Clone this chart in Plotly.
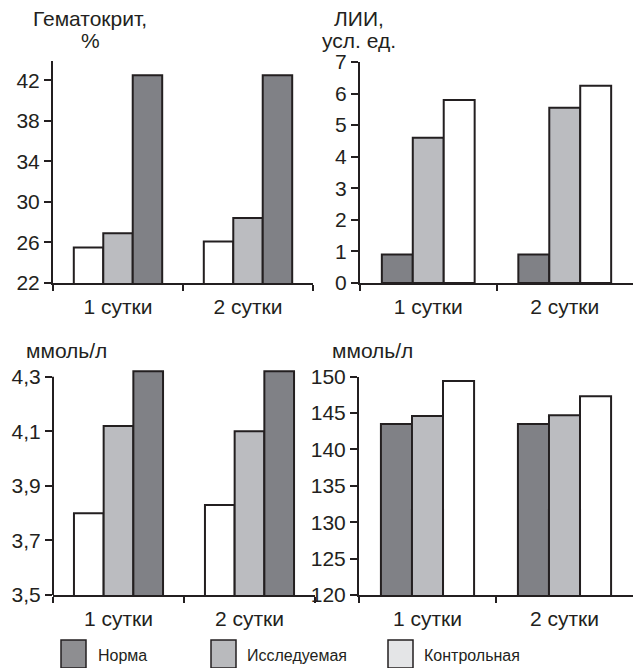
import plotly.graph_objects as go

days = ["1 сутки", "2 сутки"]
series_names = ["Норма", "Исследуемая", "Контрольная"]

hct_norm = [42.5, 42.5]
hct_study = [26.9, 28.4]
hct_control = [25.5, 26.1]

lii_norm = [0.9, 0.9]
lii_study = [4.6, 5.55]
lii_control = [5.8, 6.25]

k_norm = [4.32, 4.32]
k_study = [4.12, 4.10]
k_control = [3.80, 3.83]

na_norm = [143.5, 143.5]
na_study = [144.6, 144.7]
na_control = [149.4, 147.3]

hct_ticks = [22, 26, 30, 34, 38, 42]
lii_ticks = [0, 1, 2, 3, 4, 5, 6, 7]
k_ticks = [3.5, 3.7, 3.9, 4.1, 4.3]
k_ticktext = ["3,5", "3,7", "3,9", "4,1", "4,3"]
na_ticks = [120, 125, 130, 135, 140, 145, 150]

W, H = 637, 668
INK = "#231f20"
FONT = "Liberation Sans, Arial, sans-serif"
bar_colors = {"Норма": "#808186", "Исследуемая": "#bbbcc0", "Контрольная": "#ffffff"}
legend_colors = {"Норма": "#8e8e91", "Исследуемая": "#b9babd", "Контрольная": "#e4e5e7"}

fig = go.Figure()


def add_bars(name, vals, xa, ya):
    fig.add_trace(go.Bar(
        x=days, y=vals, name=name, xaxis=xa, yaxis=ya, showlegend=False,
        marker=dict(color=bar_colors[name], line=dict(color=INK, width=2)),
    ))


# top-left: Контрольная, Исследуемая, Норма
add_bars("Контрольная", hct_control, "x", "y")
add_bars("Исследуемая", hct_study, "x", "y")
add_bars("Норма", hct_norm, "x", "y")
# top-right
add_bars("Норма", lii_norm, "x2", "y2")
add_bars("Исследуемая", lii_study, "x2", "y2")
add_bars("Контрольная", lii_control, "x2", "y2")
# bottom-left
add_bars("Контрольная", k_control, "x3", "y3")
add_bars("Исследуемая", k_study, "x3", "y3")
add_bars("Норма", k_norm, "x3", "y3")
# bottom-right
add_bars("Норма", na_norm, "x4", "y4")
add_bars("Исследуемая", na_study, "x4", "y4")
add_bars("Контрольная", na_control, "x4", "y4")


def px_x(p):
    return p / W


def px_y(p):
    return 1 - p / H


xcommon = dict(type="category", showline=True, linecolor=INK, linewidth=2,
               ticks="outside", tickson="boundaries", ticklen=6, tickwidth=2, tickcolor=INK,
               showgrid=False, zeroline=False, fixedrange=True, automargin=False,
               tickfont=dict(family=FONT, size=21, color=INK), ticklabelstandoff=4)
ycommon = dict(showline=True, linecolor=INK, linewidth=2, ticks="outside", ticklen=7,
               tickwidth=2, tickcolor=INK, showgrid=False, zeroline=False, automargin=False,
               fixedrange=True, tickfont=dict(family=FONT, size=21, color=INK))

fig.update_layout(
    width=W, height=H, margin=dict(l=0, r=0, t=0, b=0, pad=0, autoexpand=False),
    paper_bgcolor="white", plot_bgcolor="white",
    barmode="group", bargap=0.32, bargroupgap=0,
    showlegend=False,
    xaxis=dict(xcommon, domain=[px_x(53), px_x(313)], anchor="y"),
    yaxis=dict(ycommon, domain=[px_y(283), px_y(61)], range=[22, 43.9],
               tickvals=hct_ticks, anchor="x"),
    xaxis2=dict(xcommon, domain=[px_x(360), px_x(633)], anchor="y2"),
    yaxis2=dict(ycommon, domain=[px_y(283), px_y(62)], range=[0, 7],
                tickvals=lii_ticks, anchor="x2"),
    xaxis3=dict(xcommon, domain=[px_x(53), px_x(315)], anchor="y3"),
    yaxis3=dict(ycommon, domain=[px_y(595), px_y(370)], range=[3.5, 4.325],
                tickvals=k_ticks, ticktext=k_ticktext, anchor="x3", showline=False),
    xaxis4=dict(xcommon, domain=[px_x(359), px_x(633)], anchor="y4"),
    yaxis4=dict(ycommon, domain=[px_y(595), px_y(376.7)], range=[120, 150],
                tickvals=na_ticks, anchor="x4"),
)

# y axis line of bottom-left panel stops at the 4,3 tick
fig.add_shape(type="line", xref="x3 domain", yref="y3", x0=0, x1=0,
              y0=k_ticks[0], y1=k_ticks[-1], line=dict(color=INK, width=2))

# axis titles (one annotation per line)
titles = [
    ("Гематокрит,", 90, 18),
    ("%", 90, 40),
    ("ЛИИ,", 359, 18),
    ("усл. ед.", 359, 40),
    ("ммоль/л", 66, 350),
    ("ммоль/л", 373, 350),
]
for txt, cx, cy in titles:
    fig.add_annotation(text=txt, xref="paper", yref="paper", x=px_x(cx), y=px_y(cy),
                       xanchor="center", yanchor="middle", showarrow=False, align="center",
                       font=dict(family=FONT, size=21, color=INK))

# legend
legend_pos = [(61, 96), (211, 245), (388, 422)]
for name, (bx, tx) in zip(series_names, legend_pos):
    fig.add_shape(type="rect", xref="paper", yref="paper",
                  x0=px_x(bx), x1=px_x(bx + 25), y0=px_y(668), y1=px_y(640),
                  fillcolor=legend_colors[name], line=dict(color=INK, width=1.5))
    fig.add_annotation(text=name, xref="paper", yref="paper", x=px_x(tx), y=px_y(655),
                       xanchor="left", yanchor="middle", showarrow=False,
                       font=dict(family=FONT, size=16, color=INK))

fig.write_html("out.html", config={"displayModeBar": False},
               post_script="document.body.style.margin='0';document.body.style.overflow='hidden';")
